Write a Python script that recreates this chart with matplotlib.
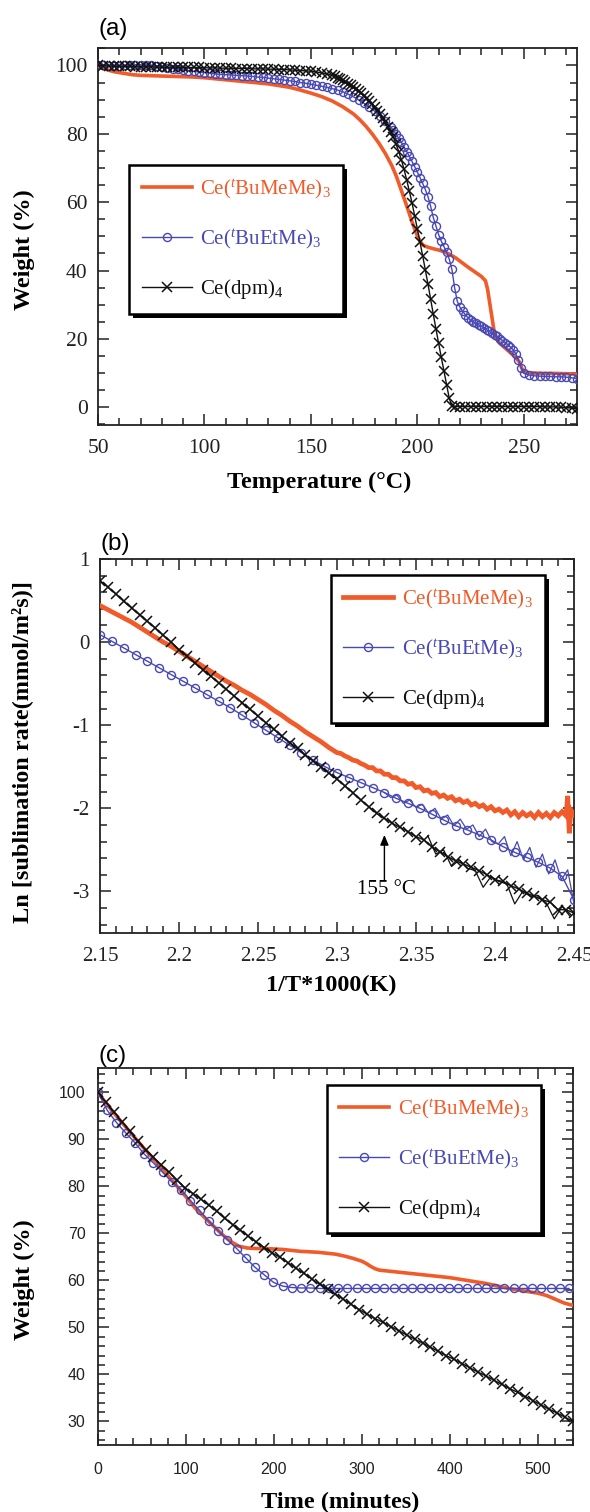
import matplotlib
matplotlib.use("Agg")
import matplotlib.pyplot as plt
from matplotlib.ticker import MultipleLocator, FuncFormatter
from matplotlib.patches import Rectangle
from matplotlib.transforms import IdentityTransform

plt.rcParams['font.family'] = ['Liberation Serif', 'DejaVu Serif']
plt.rcParams['mathtext.fontset'] = 'custom'
plt.rcParams['mathtext.rm'] = 'Liberation Serif'
plt.rcParams['mathtext.it'] = 'Liberation Serif:italic'
plt.rcParams['mathtext.bf'] = 'Liberation Serif:bold'

ORANGE = '#f15a29'
BLUE = '#4848b4'
BLACK = '#111111'

labels = [r'Ce($^{\mathit{t}}$BuMeMe)$_3$', r'Ce($^{\mathit{t}}$BuEtMe)$_3$', r'Ce(dpm)$_4$']

# ---------------- panel (a): TGA ----------------
a_or_T = [50, 52, 55, 58, 60, 63, 66, 70, 75, 80, 85, 90, 95, 100, 105, 110, 115, 120, 125, 130,
          135, 140, 145, 150, 155, 160, 165, 170, 173, 176, 179, 182, 185, 188, 190, 192, 194, 196,
          197.8, 200, 202, 203, 205, 208, 210, 212, 215, 218, 221, 224, 227, 230, 232, 233, 234, 235,
          236, 237, 238, 240, 242, 244, 246, 248, 249, 250, 252, 255, 260, 265, 270, 275]
a_or_W = [100.0, 99.2, 98.6, 98.1, 97.9, 97.6, 97.3, 97.1, 97.0, 96.9, 96.8, 96.7, 96.6, 96.4, 96.1,
          95.8, 95.5, 95.2, 94.9, 94.6, 94.1, 93.6, 92.8, 91.9, 90.9, 89.6, 87.9, 85.8, 84.1, 82.1,
          79.8, 77.2, 74.2, 70.7, 67.8, 64.3, 60.7, 57.1, 53.7, 50.2, 47.9, 47.3, 46.8, 46.3, 46.0,
          45.6, 44.8, 43.7, 42.3, 40.9, 39.6, 38.3, 37.0, 34.5, 30.5, 26.5, 22.5, 20.5, 19.2, 18.0,
          16.9, 15.8, 14.6, 13.2, 11.5, 10.4, 10.1, 10.0, 9.9, 9.9, 9.8, 9.7]

a_bl_T = [50, 52.5, 55, 57.5, 60, 62.5, 65, 67.5, 70, 72.5, 75, 77.5, 80, 82.5, 85, 87.5, 90, 92.5,
          95, 97.5, 100, 102.5, 105, 107.5, 110, 112.5, 115, 117.5, 120, 122.5, 125, 127.5, 130,
          132.5, 135, 137.5, 140, 142.5, 145, 147.5, 150, 152.5, 155, 157.5, 160, 162.5, 165, 167.5,
          170, 172.5, 175, 177.5, 180, 182.5, 185, 187.5,
          188.75, 190, 191.25, 192.5, 193.75, 195, 196.25, 197.5, 198.75, 200, 201.25, 202.5, 203.75,
          205, 206.25, 207.5, 208.75, 210, 211.25, 212.5, 213.75, 215, 216.25, 217.5, 218.75, 220,
          221.25, 222.5, 223.75, 225, 226.25, 227.5, 228.75, 230, 231.25, 232.5, 233.75, 235, 236.25,
          237.5, 238.75, 240, 241.25, 242.5, 243.75, 245, 246.25, 247.5, 248.75, 250,
          252.5, 255, 257.5, 260, 262.5, 265, 267.5, 270, 272.5, 275]
a_bl_W = [100.0, 100.0, 99.9, 99.9, 99.9, 100.0, 100.1, 100.2, 100.2, 100.2, 100.1, 99.9, 99.6, 99.3,
          99.1, 98.9, 98.7, 98.5, 98.3, 98.1, 97.9, 97.7, 97.5, 97.4, 97.3, 97.2, 97.1, 97.0, 96.9,
          96.8, 96.6, 96.5, 96.3, 96.1, 95.9, 95.7, 95.5, 95.3, 95.0, 94.8, 94.5, 94.2, 93.9, 93.6,
          93.2, 92.8, 92.3, 91.6, 90.8, 89.9, 88.9, 87.8, 86.6, 85.2, 83.7, 82.0,
          81.0, 79.9, 78.7, 77.5, 76.2, 74.8, 73.4, 71.9, 70.4, 68.8, 67.2, 65.5, 63.7,
          61.6, 58.8, 55.5, 53.0, 50.5, 48.6, 47.0, 45.4, 43.3, 40.3, 35.0, 31.0, 29.3,
          28.1, 27.1, 26.2, 25.5, 25.0, 24.6, 24.1, 23.7, 23.2, 22.7, 22.2, 21.7, 21.2,
          20.7, 20.1, 19.5, 18.9, 18.3, 17.6, 16.8, 15.6, 13.9, 11.6, 9.9,
          9.4, 9.2, 9.1, 9.0, 9.0, 8.9, 8.9, 8.8, 8.6, 8.4]

a_dpm_T = [50, 52.5, 55, 57.5, 60, 62.5, 65, 67.5, 70, 72.5, 75, 77.5, 80, 82.5, 85, 87.5, 90, 92.5,
           95, 97.5, 100, 102.5, 105, 107.5, 110, 112.5, 115, 117.5, 120, 122.5, 125, 127.5, 130,
           132.5, 135, 137.5, 140, 142.5, 145, 147.5, 150, 152.5, 155, 157.5,
           160, 161.25, 162.5, 163.75, 165, 166.25, 167.5, 168.75, 170, 171.25, 172.5, 173.75, 175,
           176.25, 177.5, 178.75, 180, 181.25, 182.5, 183.75, 185, 186.25, 187.5, 188.75, 190, 191.25,
           192.5, 193.75, 195, 196.25, 197.5, 198.75, 200, 201.25, 202.5, 203.75, 205, 206.25, 207.5,
           208.75, 210, 211.25, 212.5, 213.75, 215, 216.25,
           217.5, 220, 222.5, 225, 227.5, 230, 232.5, 235, 237.5, 240, 242.5, 245, 247.5, 250, 252.5,
           255, 257.5, 260, 262.5, 265, 267.5, 270, 272.5, 275]
a_dpm_W = [100.0, 99.9, 99.8, 99.8, 99.7, 99.7, 99.7, 99.6, 99.6, 99.6, 99.6, 99.5, 99.5, 99.5, 99.5,
           99.5, 99.4, 99.4, 99.4, 99.4, 99.3, 99.3, 99.3, 99.2, 99.2, 99.2, 99.1, 99.1, 99.1, 99.0,
           99.0, 99.0, 98.9, 98.9, 98.8, 98.8, 98.7, 98.6, 98.5, 98.4, 98.3, 98.1, 97.8, 97.5,
           97.1, 96.8, 96.4, 96.0, 95.6, 95.2, 94.7, 94.3, 93.8, 93.2, 92.6, 91.9, 91.2, 90.4, 89.6,
           88.7, 87.8, 86.8, 85.7, 84.6, 83.4, 82.1, 80.6, 79.0, 77.0, 74.8, 72.4, 69.6, 66.5, 63.2,
           59.8, 56.0, 52.2, 48.3, 44.3, 40.2, 36.0, 31.6, 27.2, 22.9, 18.7, 14.6, 10.6, 6.6, 2.6,
           0.3,
           0.2, 0.2, 0.2, 0.2, 0.2, 0.2, 0.2, 0.2, 0.2, 0.2, 0.2, 0.2, 0.2, 0.2, 0.2, 0.2, 0.2,
           0.1, 0.1, 0.1, 0.0, -0.1, -0.3, -0.4]

# ---------------- panel (b): sublimation rate ----------------
b_or_x = [2.150, 2.155, 2.160, 2.165, 2.170, 2.175, 2.180, 2.185, 2.190, 2.195, 2.200, 2.205, 2.210,
          2.215, 2.220, 2.225, 2.230, 2.235, 2.240, 2.245, 2.250, 2.255, 2.260, 2.265, 2.270, 2.275,
          2.280, 2.285, 2.290, 2.295, 2.300, 2.3025, 2.305, 2.3075, 2.310, 2.3125, 2.315, 2.3175,
          2.320, 2.3225, 2.325, 2.3275, 2.330, 2.3325, 2.335, 2.3375, 2.340, 2.3425, 2.345, 2.3475,
          2.350, 2.3525, 2.355, 2.3575, 2.360, 2.3625, 2.365, 2.3675, 2.370, 2.3725, 2.375, 2.3775,
          2.380, 2.3825, 2.385, 2.3875, 2.390, 2.3925, 2.395, 2.3975, 2.400, 2.4025, 2.405, 2.4075,
          2.410, 2.4125, 2.415, 2.4175, 2.420, 2.4225, 2.425, 2.4275, 2.430, 2.4325, 2.435, 2.4375,
          2.440, 2.4425, 2.445, 2.446, 2.447, 2.448, 2.450]
b_or_y = [0.44, 0.39, 0.34, 0.29, 0.24, 0.18, 0.12, 0.06, 0.00, -0.05, -0.11, -0.17, -0.23, -0.29,
          -0.35, -0.41, -0.47, -0.52, -0.58, -0.63, -0.69, -0.75, -0.82, -0.88, -0.95, -1.01, -1.08,
          -1.14, -1.20, -1.27, -1.33, -1.34, -1.37, -1.39, -1.42, -1.43, -1.46, -1.48, -1.51, -1.51,
          -1.55, -1.55, -1.59, -1.59, -1.63, -1.63, -1.67, -1.67, -1.71, -1.70, -1.75, -1.74, -1.79,
          -1.78, -1.82, -1.81, -1.86, -1.84, -1.88, -1.86, -1.91, -1.89, -1.93, -1.91, -1.96, -1.94,
          -1.98, -1.96, -2.01, -1.98, -2.03, -2.01, -2.05, -2.02, -2.08, -2.04, -2.10, -2.05, -2.09,
          -2.06, -2.11, -2.05, -2.10, -2.06, -2.11, -2.05, -2.09, -2.04, -2.09, -1.85, -2.30, -2.02,
          -2.08]

b_bl_x = [2.1500, 2.1575, 2.1650, 2.1725, 2.1800, 2.1875, 2.1950, 2.2025, 2.2100, 2.2175, 2.2250,
          2.2325, 2.2400, 2.2475, 2.2550, 2.2625, 2.2700, 2.2775, 2.2850, 2.2925, 2.3000, 2.3075,
          2.3150, 2.3225, 2.3300, 2.3375, 2.3450, 2.3525, 2.3600, 2.3675, 2.3750, 2.3825, 2.3900,
          2.3975, 2.4050, 2.4125, 2.4200, 2.4275, 2.4350, 2.4425, 2.4500]
b_bl_y = [0.09, 0.01, -0.07, -0.15, -0.23, -0.31, -0.39, -0.47, -0.55, -0.63, -0.71, -0.79, -0.88,
          -0.97, -1.06, -1.15, -1.24, -1.33, -1.42, -1.50, -1.57, -1.63, -1.69, -1.75, -1.81, -1.88,
          -1.94, -2.00, -2.07, -2.14, -2.21, -2.26, -2.32, -2.38, -2.46, -2.53, -2.59, -2.65, -2.72,
          -2.82, -3.10]
# jagged raw trace of the blue curve at low temperature
b_bl_nx = [2.330, 2.334, 2.338, 2.342, 2.346, 2.350, 2.354, 2.358, 2.362, 2.366, 2.370, 2.374, 2.378,
           2.382, 2.386, 2.390, 2.394, 2.398, 2.402, 2.406, 2.410, 2.414, 2.418, 2.422, 2.426, 2.430,
           2.434, 2.438, 2.442, 2.446, 2.450]
b_bl_ny = [-1.81, -1.87, -1.84, -1.94, -1.90, -1.99, -1.95, -2.06, -2.00, -2.13, -2.08, -2.21, -2.13,
           -2.25, -2.20, -2.34, -2.25, -2.40, -2.43, -2.34, -2.57, -2.40, -2.62, -2.47, -2.71, -2.55,
           -2.79, -2.62, -2.86, -2.74, -3.15]

b_dpm_x = [2.150, 2.155, 2.160, 2.165, 2.170, 2.175, 2.180, 2.185, 2.190, 2.195, 2.200, 2.205, 2.210,
           2.215, 2.220, 2.225, 2.230, 2.235, 2.240, 2.245, 2.250, 2.255, 2.260, 2.265, 2.270, 2.275,
           2.280, 2.285, 2.290, 2.295, 2.300, 2.305, 2.310, 2.315, 2.320, 2.325, 2.330, 2.335, 2.340,
           2.345, 2.350, 2.355, 2.360, 2.365, 2.370, 2.375, 2.380, 2.385, 2.390, 2.395, 2.400, 2.405,
           2.410, 2.415, 2.420, 2.425, 2.430, 2.435, 2.440, 2.445, 2.450]
b_dpm_y = [0.74, 0.66, 0.58, 0.49, 0.41, 0.33, 0.25, 0.17, 0.08, 0.00, -0.09, -0.17, -0.25, -0.33,
           -0.41, -0.49, -0.57, -0.65, -0.73, -0.81, -0.89, -0.97, -1.05, -1.13, -1.21, -1.28, -1.36,
           -1.43, -1.50, -1.58, -1.65, -1.73, -1.81, -1.90, -1.98, -2.06, -2.12, -2.18, -2.23, -2.28,
           -2.34, -2.38, -2.46, -2.52, -2.58, -2.63, -2.67, -2.71, -2.75, -2.80, -2.86, -2.88, -2.93,
           -2.97, -3.02, -3.06, -3.10, -3.13, -3.22, -3.22, -3.26]
# jagged raw trace of the black curve at low temperature
b_dpm_nx = [2.3575, 2.3625, 2.3675, 2.3725, 2.3775, 2.3825, 2.3875, 2.3925, 2.3975, 2.4025, 2.4075,
            2.4125, 2.4175, 2.4225, 2.4275, 2.4325, 2.4375, 2.4425, 2.4475]
b_dpm_ny = [-2.33, -2.55, -2.50, -2.70, -2.62, -2.72, -2.75, -2.95, -2.82, -2.88, -2.91, -3.15,
            -3.00, -3.06, -3.05, -3.14, -3.33, -3.18, -3.30]

# ---------------- panel (c): isothermal weight loss ----------------
c_or_t = [0, 10, 20, 30, 40, 50, 60, 70, 80, 90, 100, 110, 120, 130, 140, 150, 160, 170, 180, 190,
          200, 210, 220, 230, 240, 250, 260, 270, 280, 290, 300, 305, 310, 315, 320, 330, 340, 350,
          360, 370, 380, 390, 400, 410, 420, 430, 440, 450, 460, 470, 480, 490, 500, 510, 520, 530, 540]
c_or_w = [100.0, 97.5, 95.2, 93.0, 90.8, 88.6, 86.5, 84.3, 82.2, 80.0, 77.8, 75.5, 73.6, 71.8, 70.0,
          68.4, 67.3, 66.9, 66.8, 66.8, 66.7, 66.6, 66.4, 66.2, 66.1, 66.0, 65.8, 65.6, 65.2, 64.7,
          64.1, 63.6, 63.0, 62.5, 62.2, 62.0, 61.8, 61.6, 61.4, 61.2, 61.0, 60.8, 60.6, 60.3, 60.0,
          59.7, 59.4, 59.0, 58.6, 58.2, 57.9, 57.6, 57.3, 56.8, 56.0, 55.2, 54.7]

c_bl_t = [0, 10.5, 21, 31.5, 42, 52.5, 63, 73.5, 84, 94.5, 105, 115.5, 126, 136.5, 147, 157.5, 168,
          178.5, 189, 199.5, 210, 220.5, 231, 241.5, 252, 262.5, 273, 283.5, 294, 304.5, 315, 325.5,
          336, 346.5, 357, 367.5, 378, 388.5, 399, 409.5, 420, 430.5, 441, 451.5, 462, 472.5, 483,
          493.5, 504, 514.5, 525, 535.5]
c_bl_w = [100.0, 96.2, 93.6, 91.4, 89.3, 86.9, 85.0, 83.0, 81.0, 79.3, 77.0, 74.9, 72.6, 70.6, 68.7,
          66.8, 64.8, 62.8, 61.2, 59.6, 58.8, 58.5, 58.4, 58.4, 58.3, 58.3, 58.3, 58.3, 58.3, 58.3,
          58.3, 58.3, 58.3, 58.3, 58.3, 58.3, 58.3, 58.3, 58.3, 58.3, 58.3, 58.3, 58.3, 58.3, 58.3,
          58.3, 58.3, 58.3, 58.3, 58.3, 58.3, 58.3]

c_dpm_t = [0, 9, 18, 27, 36, 45, 54, 63, 72, 81, 90, 99, 108, 117, 126, 135, 144, 153, 162, 171, 180,
           189, 198, 207, 216, 225, 234, 243, 252, 261, 270, 279, 288, 297, 306, 315, 324, 333, 342,
           351, 360, 369, 378, 387, 396, 405, 414, 423, 432, 441, 450, 459, 468, 477, 486, 495, 504,
           513, 522, 531, 540]
c_dpm_w = [100.0, 97.9, 95.9, 93.8, 91.8, 89.7, 87.8, 86.2, 84.6, 83.0, 81.3, 79.7, 78.5, 77.3, 76.0,
           74.7, 73.2, 71.9, 70.7, 69.4, 68.2, 67.0, 65.9, 64.9, 63.8, 62.6, 61.5, 60.3, 59.2, 58.1,
           57.1, 56.0, 54.9, 53.8, 52.8, 51.9, 51.1, 50.2, 49.3, 48.4, 47.5, 46.7, 45.8, 44.9, 44.0,
           43.2, 42.3, 41.4, 40.5, 39.7, 38.8, 37.9, 37.0, 36.2, 35.3, 34.4, 33.5, 32.6, 31.8, 30.9,
           30.0]

W, H = 590, 1512
fig = plt.figure(figsize=(W / 100, H / 100), dpi=100)


def frac(l, r, t, b):
    return [l / W, 1 - b / H, (r - l) / W, (b - t) / H]


axA = fig.add_axes(frac(98, 577, 48, 425))
axB = fig.add_axes(frac(100, 574, 559, 933))
axC = fig.add_axes(frac(98, 573, 1068, 1445))


def plot_series(ax, orx, ory, blx, bly, dpx, dpy, lw_or=2.6):
    ax.plot(orx, ory, color=ORANGE, lw=lw_or, solid_joinstyle='miter', label=labels[0], zorder=3)
    ax.plot(blx, bly, color=BLUE, lw=1.0, marker='o', ms=5.8, mfc='none', mec=BLUE, mew=1.0,
            label=labels[1], zorder=4)
    ax.plot(dpx, dpy, color=BLACK, lw=1.0, marker='x', ms=6.5, mew=1.1, label=labels[2], zorder=5)


plot_series(axA, a_or_T, a_or_W, a_bl_T, a_bl_W, a_dpm_T, a_dpm_W)
plot_series(axB, b_or_x, b_or_y, b_bl_x, b_bl_y, b_dpm_x, b_dpm_y, lw_or=3.4)
plot_series(axC, c_or_t, c_or_w, c_bl_t, c_bl_w, c_dpm_t, c_dpm_w)
axB.plot(b_bl_nx, b_bl_ny, color=BLUE, lw=0.9, zorder=4)
axB.plot(b_dpm_nx, b_dpm_ny, color=BLACK, lw=0.9, zorder=5)


def style(ax, xmaj, xmin, ymaj, ymin, sans=False):
    ax.xaxis.set_major_locator(MultipleLocator(xmaj))
    ax.xaxis.set_minor_locator(MultipleLocator(xmin))
    ax.yaxis.set_major_locator(MultipleLocator(ymaj))
    ax.yaxis.set_minor_locator(MultipleLocator(ymin))
    ax.tick_params(which='both', direction='in', top=True, right=True, colors='#222222', width=1.1)
    ax.tick_params(which='major', length=8)
    ax.tick_params(which='minor', length=5)
    if sans:
        ax.tick_params(labelsize=11.5, labelfontfamily='Liberation Sans')
        ax.tick_params(axis='x', pad=12)
        ax.tick_params(axis='y', pad=9)
    else:
        ax.tick_params(labelsize=15.5)
        ax.tick_params(axis='x', pad=10)
        ax.tick_params(axis='y', pad=7.5)
    for s in ax.spines.values():
        s.set_linewidth(1.3)
        s.set_color('#222222')


style(axA, 50, 10, 20, 5)
style(axB, 0.05, 0.01, 1, 0.2)
style(axC, 100, 20, 10, 2, sans=True)
axB.tick_params(labelsize=15)

axA.set_xlim(50, 275)
axA.set_ylim(-5.2, 105.1)
axB.set_xlim(2.15, 2.45)
axB.set_ylim(-3.5, 1.0)
axC.set_xlim(0, 540)
axC.set_ylim(25, 105.2)

axB.xaxis.set_major_formatter(FuncFormatter(lambda v, p: ('%.2f' % v).rstrip('0').rstrip('.')))
axB.yaxis.set_major_formatter(FuncFormatter(lambda v, p: '%d' % round(v)))

lab_kw = dict(fontsize=17.5, fontweight='bold', family='Liberation Serif')
axA.set_xlabel('Temperature (°C)', **lab_kw)
axA.set_ylabel('Weight (%)', **lab_kw)
axB.set_xlabel('1/T*1000(K)', **lab_kw)
axB.set_ylabel('Ln [sublimation rate(mmol/m²s)]', **lab_kw)
axC.set_xlabel('Time (minutes)', **lab_kw)
axC.set_ylabel('Weight (%)', **lab_kw)

axA.xaxis.set_label_coords(0.462, -0.125)
axA.xaxis.label.set_va('top')
axB.xaxis.set_label_coords(0.487, -0.112)
axB.xaxis.label.set_va('top')
axC.xaxis.set_label_coords(0.51, -0.125)
axC.xaxis.label.set_va('top')
axA.yaxis.set_label_coords(-0.131, 0.465)
axB.yaxis.set_label_coords(-0.141, 0.484)
axC.yaxis.set_label_coords(-0.133, 0.438)

for ax, txt, ybl in [(axA, '(a)', 35), (axB, '(b)', 550), (axC, '(c)', 1062)]:
    fig.text(ax.get_position().x0 + 1 / W, 1 - ybl / H, txt, fontsize=17.5,
             family='Liberation Sans', ha='left', va='baseline')

# annotation in (b)
axB.annotate('', xy=(2.33, -2.32), xytext=(2.33, -2.86),
             arrowprops=dict(arrowstyle='-|>,head_length=0.6,head_width=0.25', color='black', lw=1.0,
                             shrinkA=0, shrinkB=0))
axB.text(2.331, -2.98, '155 °C', fontsize=15, ha='center', va='center', family='Liberation Serif')

leg_kw = dict(loc='upper left', borderaxespad=0, frameon=True, fancybox=False, shadow=False,
              framealpha=1.0,
              prop={'family': 'Liberation Serif', 'size': 15}, labelcolor='linecolor',
              handlelength=2.4, handletextpad=0.4, borderpad=0.6, labelspacing=1.25)
legends = []
for ax, anchor in [(axA, (0.065, 0.689)), (axB, (0.487, 0.957)), (axC, (0.482, 0.955))]:
    leg = ax.legend(bbox_to_anchor=anchor, **leg_kw)
    fr = leg.get_frame()
    fr.set_edgecolor('black')
    fr.set_linewidth(1.8)
    fr.set_facecolor('white')
    fr.set_alpha(1.0)
    leg.set_zorder(10)
    legends.append((ax, leg))

# solid black drop shadow behind each legend box
fig.canvas.draw()
renderer = fig.canvas.get_renderer()
for ax, leg in legends:
    bb = leg.get_frame().get_window_extent(renderer)
    sh = Rectangle((bb.x0 + 4, bb.y0 - 4), bb.width, bb.height, transform=IdentityTransform(),
                   facecolor='black', edgecolor='black', lw=0, zorder=9.5, clip_on=False)
    ax.add_artist(sh)

fig.savefig('out.png', dpi=100)
